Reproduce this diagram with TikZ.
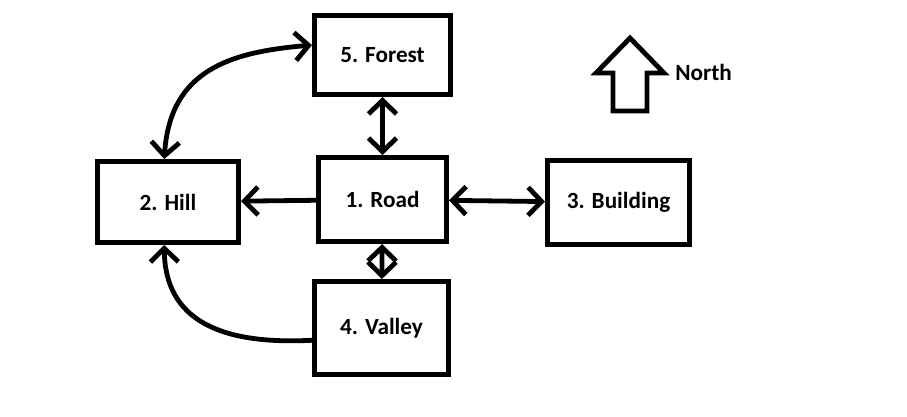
\documentclass[tikz,border=0pt]{standalone}
\usepackage{fontspec}
\setmainfont{Carlito}
\usetikzlibrary{arrows.meta}

\begin{document}
\begin{tikzpicture}[x=0.025cm,y=-0.025cm]
    \tikzset{Place/.style={%
        shape=rectangle,%
        draw=black,%
        line width=1.25mm,%
        inner sep=0pt,%
        font=\fontsize{16.5}{19}\selectfont\bfseries,%
    }}
    \tikzset{Link/.style={%
        line width=1.2mm,%
        >={Straight Barb[length=3.4mm,width=7mm]},%
    }}
    \useasboundingbox (0,0) rectangle (907,416);

    \node[Place, minimum width=32mm, minimum height=21mm] (road) at (382.5,199.5) {1. Road};
    \node[Place, minimum width=35.25mm, minimum height=20.25mm] (hill) at (168,202) {2. Hill};
    \node[Place, minimum width=35.5mm, minimum height=21mm] (building) at (618.5,202.5) {3. Building};
    \node[Place, minimum width=33.5mm, minimum height=23.25mm] (valley) at (381.5,328) {4. Valley};
    \node[Place, minimum width=34mm, minimum height=19.75mm] (forest) at (382.5,55) {5. Forest};

    % compass
    \draw[line width=1.2mm, line join=miter] (630,38) -- (664,73) -- (647,73) -- (647,111)
        -- (613,111) -- (613,73) -- (596,73) -- cycle;
    \node[font=\fontsize{16.5}{19}\selectfont\bfseries] (north) at (703.5,72) {North};

    \path (forest) edge[Link, <->] (road);
    \path (road) edge[Link, ->] (hill);
    \path (road) edge[Link, <->] (building);
    \path (road) edge[Link, <->] (valley);
    \draw[Link, <->] (forest.172) .. controls (230,52) and (170,70) .. (hill.95);
    \draw[Link, ->] (valley.190) .. controls (220,345) and (165,320) .. (hill.265);
\end{tikzpicture}
\end{document}
